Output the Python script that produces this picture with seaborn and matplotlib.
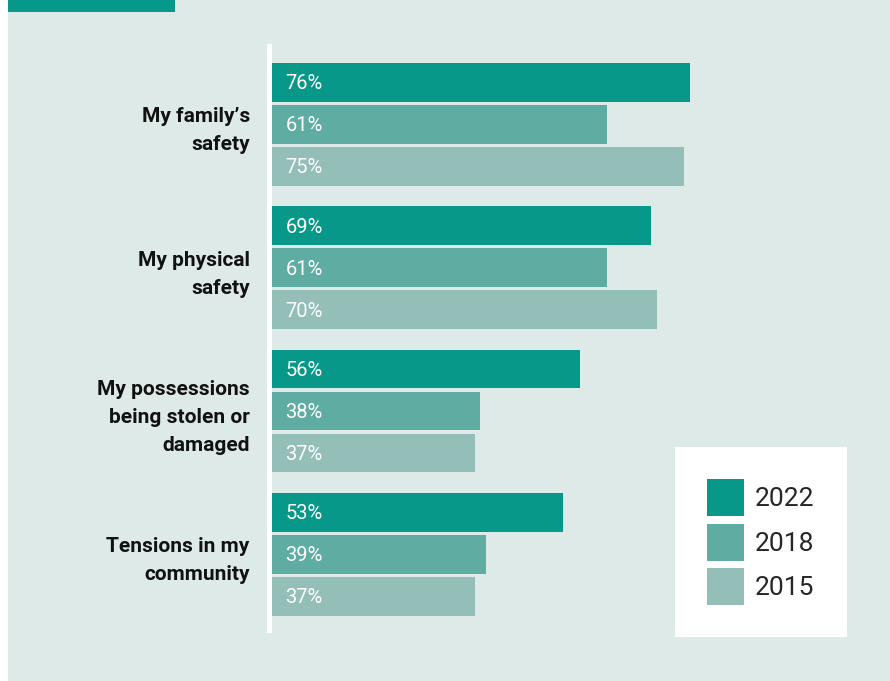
import matplotlib
matplotlib.use("Agg")
import matplotlib.pyplot as plt
from matplotlib.patches import Rectangle
import pandas as pd
import seaborn as sns

# Share of respondents worried about each issue, by survey year
concerns = [
    "My family’s\nsafety",
    "My physical\nsafety",
    "My possessions\nbeing stolen or\ndamaged",
    "Tensions in my\ncommunity",
]
years = ["2022", "2018", "2015"]
share_2022 = [76, 69, 56, 53]
share_2018 = [61, 61, 38, 39]
share_2015 = [75, 70, 37, 37]

PANEL = "#deeae7"
TEAL = "#079889"
palette = {"2022": TEAL, "2018": "#5fada2", "2015": "#93bfb8"}

df = pd.DataFrame({
    "concern": concerns * 3,
    "year": ["2022"] * 4 + ["2018"] * 4 + ["2015"] * 4,
    "share": share_2022 + share_2018 + share_2015,
})

sns.set_style("white")
plt.rcParams["font.family"] = ["Roboto", "DejaVu Sans"]

W, H = 890, 681
fig = plt.figure(figsize=(W / 100, H / 100), dpi=100, facecolor=PANEL)

# white margin strip and teal accent block at the top left
fig.patches.append(Rectangle((0, 0), 8 / W, 1, transform=fig.transFigure,
                             facecolor="white", edgecolor="none", zorder=0))
fig.patches.append(Rectangle((8 / W, 1 - 12 / H), (175 - 8) / W, 12 / H,
                             transform=fig.transFigure, facecolor=TEAL,
                             edgecolor="none", zorder=0))

ax_left, ax_right, ax_top, ax_bottom = 268.5, 860, 46, 630
ax = fig.add_axes([ax_left / W, 1 - ax_bottom / H,
                   (ax_right - ax_left) / W, (ax_bottom - ax_top) / H])
ax.set_facecolor(PANEL)

sns.barplot(data=df, y="concern", x="share", hue="year", hue_order=years,
            palette=palette, orient="h", width=0.879, gap=0.079,
            saturation=1, errorbar=None, ax=ax, legend=True,
            edgecolor="none", linewidth=0)

px_per_pct = 5.51
ax.set_xlim(-2.5 / px_per_pct, (ax_right - ax_left - 2.5) / px_per_pct)
ax.set_ylim(3.528, -0.546)

# value labels inside each bar, near its base
for container in ax.containers:
    for patch, val in zip(container.patches, container.datavalues):
        ax.annotate(f"{val:.0f}%", xy=(0, patch.get_y() + patch.get_height() / 2),
                    xytext=(10.3, -1), textcoords="offset points",
                    ha="left", va="center", color="white", fontsize=14.5,
                    family=["Roboto", "DejaVu Sans"])

for side in ["top", "right", "bottom"]:
    ax.spines[side].set_visible(False)
ax.spines["left"].set_color("white")
ax.spines["left"].set_linewidth(3.6)

ax.set_xlabel("")
ax.set_ylabel("")
ax.set_xticks([])
ax.tick_params(axis="y", length=0, pad=13.5)
for lab in ax.get_yticklabels():
    lab.set_family(["Roboto", "DejaVu Sans"])
    lab.set_fontweight("bold")
    lab.set_fontsize(15)
    lab.set_color("#111111")
    lab.set_linespacing(1.6)
    lab.set_horizontalalignment("right")

handles, labels = ax.get_legend_handles_labels()
ax.get_legend().remove()
leg = ax.legend(handles, labels, loc="upper left",
                bbox_to_anchor=(675 / W, 1 - 447 / H),
                bbox_transform=fig.transFigure, borderaxespad=0,
                frameon=True, fancybox=False, framealpha=1,
                facecolor="white", edgecolor="none",
                prop={"family": ["Roboto", "DejaVu Sans"], "size": 19},
                handlelength=1.40, handleheight=1.78, labelspacing=0.28,
                handletextpad=0.42, borderpad=1.22)
leg.get_frame().set_linewidth(0)

fig.savefig("out.png", dpi=100, facecolor=PANEL)
